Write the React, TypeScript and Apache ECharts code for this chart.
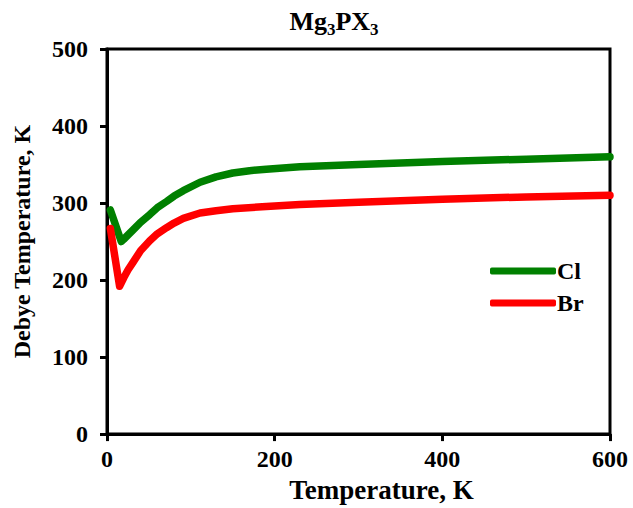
import React, { useEffect, useRef } from "react";
import * as echarts from "echarts";

const clT = [4, 17, 20, 25, 31, 40, 51, 60, 71, 80, 91, 111, 130, 150, 170, 190, 230, 300, 400, 500, 600];
const clV = [291, 250, 253, 258.5, 265, 275, 285, 294, 302, 309, 316, 327, 334, 339, 342, 344, 347, 350, 354, 357, 360];
const brT = [4, 15, 20, 25, 31, 40, 51, 60, 71, 80, 91, 111, 130, 150, 190, 230, 300, 400, 500, 600];
const brV = [267, 192, 203, 213, 223, 238, 251, 260, 268, 274, 280, 287, 290, 292.5, 295.5, 298, 301, 305, 308, 310];
const seriesNames = ["Cl", "Br"];
const xTicks = [0, 200, 400, 600];
const yTicks = [0, 100, 200, 300, 400, 500];

const FONT = "'Liberation Serif', 'Times New Roman', serif";

export default function App() {
  const ref = useRef<HTMLDivElement>(null);
  useEffect(() => {
    if (!ref.current) return;
    const chart = echarts.init(ref.current, undefined, { renderer: "svg" });
    chart.setOption({
      animation: false,
      title: {
        text: "{b|Mg}{s|3}{b|PX}{s|3}",
        left: 334,
        textAlign: "center",
        top: 4,
        padding: 0,
        textStyle: {
          rich: {
            b: { fontFamily: FONT, fontWeight: "bold", fontSize: 26, color: "#000", lineHeight: 30, verticalAlign: "bottom" },
            s: { fontFamily: FONT, fontWeight: "bold", fontSize: 17, color: "#000", lineHeight: 30, verticalAlign: "bottom", padding: [0, 0, -4, 0] },
          },
        },
      },
      grid: {
        left: 107,
        right: 23,
        top: 49,
        bottom: 68,
        show: true,
        borderColor: "#000",
        borderWidth: 3,
      },
      legend: {
        orient: "vertical",
        left: 490,
        top: 259,
        padding: 0,
        itemWidth: 66,
        itemHeight: 7,
        itemGap: 8,
        icon: "roundRect",
        data: seriesNames,
        textStyle: { fontFamily: FONT, fontWeight: "bold", fontSize: 24, lineHeight: 24, color: "#000", padding: [0, 0, 0, -4] },
      },
      xAxis: {
        type: "value",
        min: 0,
        max: 600,
        interval: 200,
        name: "Temperature, K",
        nameLocation: "middle",
        nameGap: 41,
        nameTextStyle: { fontFamily: FONT, fontWeight: "bold", fontSize: 27, color: "#000", padding: [0, 0, 0, 46] },
        axisLine: { lineStyle: { color: "#000", width: 3 } },
        axisTick: { show: true, length: 7, lineStyle: { color: "#000", width: 3 } },
        axisLabel: {
          fontFamily: FONT,
          fontWeight: "bold",
          fontSize: 24,
          color: "#000",
          margin: 13,
          customValues: xTicks,
        },
        splitLine: { show: false },
      },
      yAxis: {
        type: "value",
        min: 0,
        max: 500,
        interval: 100,
        name: "Debye Temperature, K",
        nameLocation: "middle",
        nameGap: 73,
        nameTextStyle: { fontFamily: FONT, fontWeight: "bold", fontSize: 24, color: "#000" },
        axisLine: { lineStyle: { color: "#000", width: 3 } },
        axisTick: { show: true, length: 7, lineStyle: { color: "#000", width: 3 } },
        axisLabel: {
          fontFamily: FONT,
          fontWeight: "bold",
          fontSize: 24,
          color: "#000",
          margin: 19,
          customValues: yTicks,
        },
        splitLine: { show: false },
      },
      series: [
        {
          name: seriesNames[0],
          type: "line",
          data: clT.map((t, i) => [t, clV[i]]),
          showSymbol: false,
          symbol: "none",
          smooth: false,
          lineStyle: { color: "#008000", width: 7.5, cap: "round", join: "round" },
          itemStyle: { color: "#008000" },
        },
        {
          name: seriesNames[1],
          type: "line",
          data: brT.map((t, i) => [t, brV[i]]),
          showSymbol: false,
          symbol: "none",
          smooth: false,
          lineStyle: { color: "#ff0000", width: 7.5, cap: "round", join: "round" },
          itemStyle: { color: "#ff0000" },
        },
      ],
    });
    return () => chart.dispose();
  }, []);
  return <div ref={ref} style={{ position: "absolute", left: 0, top: 0, width: 633, height: 508 }} />;
}
